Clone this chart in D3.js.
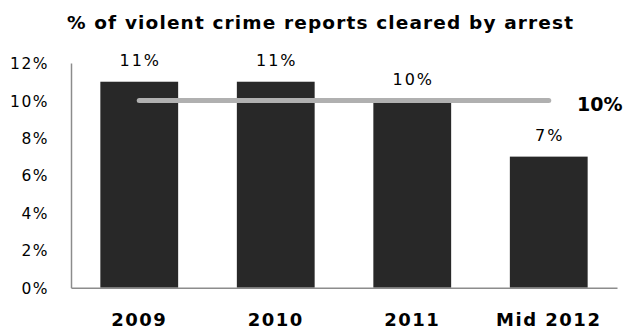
<!DOCTYPE html>
<html>
<head>
<meta charset="utf-8">
<script src="https://cdn.jsdelivr.net/npm/d3@7"></script>
<style>
  html, body { margin: 0; padding: 0; background: #fff; }
  svg { display: block; }
  text { font-family: "DejaVu Sans", Verdana, sans-serif; fill: #000; }
</style>
</head>
<body>
<svg id="chart" width="628" height="329"></svg>
<script>
// Share of violent crime reports cleared by arrest
const categories = ["2009", "2010", "2011", "Mid 2012"];
const clearedPct = [11, 11, 10, 7];
const averagePct = 10;
const yTicks = [0, 2, 4, 6, 8, 10, 12];
const titleText = "% of violent crime reports cleared by arrest";

const svg = d3.select("#chart");
const plotLeft = 71, plotRight = 617, plotTop = 63, plotBottom = 287.7;

const x = d3.scaleBand()
  .domain(categories)
  .range([plotLeft, plotRight])
  .paddingInner(0.43)
  .paddingOuter(0.215);

const y = d3.scaleLinear()
  .domain([0, 12])
  .range([plotBottom, plotTop]);

// Title
svg.append("text")
  .attr("x", 67)
  .attr("y", 28.5)
  .attr("font-size", 18.5)
  .attr("font-weight", "bold")
  .attr("textLength", 506)
  .attr("lengthAdjust", "spacing")
  .text(titleText);

// Bars
svg.append("g").selectAll("rect")
  .data(categories)
  .join("rect")
  .attr("x", d => x(d))
  .attr("width", x.bandwidth())
  .attr("y", (d, i) => y(clearedPct[i]))
  .attr("height", (d, i) => y(0) - y(clearedPct[i]))
  .attr("fill", "#282828");

// Value labels
svg.append("g").selectAll("text")
  .data(categories)
  .join("text")
  .attr("x", d => x(d) + x.bandwidth() / 2 + 1)
  .attr("y", (d, i) => y(clearedPct[i]) - 15.8)
  .attr("text-anchor", "middle")
  .attr("font-size", 16)
  .attr("letter-spacing", 2)
  .text((d, i) => clearedPct[i] + "%");

// Y axis
const yAxis = svg.append("g")
  .attr("transform", `translate(${plotLeft},0)`)
  .call(d3.axisLeft(y).tickValues(yTicks).tickSize(0).tickPadding(22)
    .tickFormat(d => d + "%"));
yAxis.select(".domain").attr("stroke", "#8c8c8c").attr("stroke-width", 1.5);
yAxis.selectAll("text")
  .attr("font-family", "'DejaVu Sans', sans-serif")
  .attr("font-size", 15.5)
  .attr("letter-spacing", 1.5)
  .attr("fill", "#000")
  .attr("dy", "0.36em");

// X axis
const xAxis = svg.append("g")
  .attr("transform", `translate(0,${plotBottom})`)
  .call(d3.axisBottom(x).tickSize(0).tickPadding(25.5));
xAxis.select(".domain").attr("stroke", "#8c8c8c").attr("stroke-width", 1.5);
xAxis.selectAll("text")
  .attr("font-family", "'DejaVu Sans', sans-serif")
  .attr("font-size", 18)
  .attr("font-weight", "bold")
  .attr("letter-spacing", 1.5)
  .attr("fill", "#000");

// Average line across the bar centres
const firstC = x(categories[0]) + x.bandwidth() / 2;
const lastC = x(categories[categories.length - 1]) + x.bandwidth() / 2;
svg.append("line")
  .attr("x1", firstC)
  .attr("x2", lastC)
  .attr("y1", y(averagePct))
  .attr("y2", y(averagePct))
  .attr("stroke", "#b0b0b0")
  .attr("stroke-width", 5)
  .attr("stroke-linecap", "round");

svg.append("text")
  .attr("x", 577)
  .attr("y", y(averagePct) + 10.5)
  .attr("font-size", 19)
  .attr("font-weight", "bold")
  .text(averagePct + "%");
</script>
</body>
</html>
